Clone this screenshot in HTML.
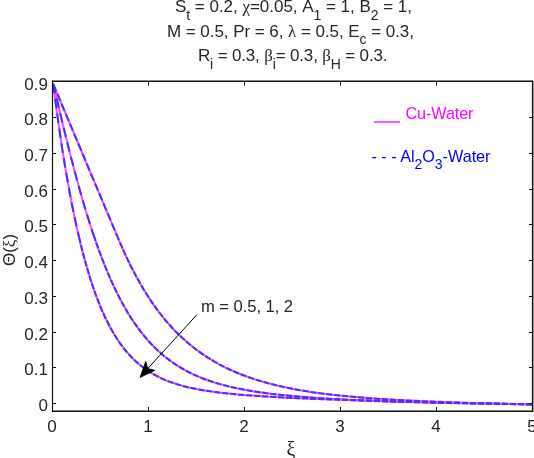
<!DOCTYPE html>
<html><head><meta charset="utf-8"><style>
html,body{margin:0;padding:0;background:#fff;}
svg{display:block;will-change:transform;}
text{font-family:"Liberation Sans",sans-serif;font-size:17px;fill:#262626;}
.tl text{font-size:17px;}
</style></head><body>
<svg width="534" height="458" viewBox="0 0 534 458">
<rect x="0" y="0" width="534" height="458" fill="#fff"/>
<g fill="none" stroke-linejoin="round">
<path d="M53.2,84.0 57.4,115.9 62.1,148.2 66.9,177.0 71.6,202.7 76.3,225.5 81.0,245.7 83.7,255.9 86.3,265.4 89.5,276.0 92.1,284.2 95.2,293.3 97.9,300.3 100.5,306.9 103.7,314.2 106.9,321.0 110.1,327.2 113.3,332.8 116.5,338.0 119.7,342.8 122.9,347.2 126.1,351.2 130.9,356.6 135.7,361.3 138.9,364.1 143.7,367.9 148.5,371.2 153.3,374.1 156.5,375.9 159.7,377.5 164.5,379.7 169.3,381.6 174.1,383.3 178.9,384.8 183.7,386.2 190.1,387.7 194.9,388.8 207.9,391.0 219.3,392.6 236.4,394.4 259.1,396.1 281.9,397.4 310.4,398.7 344.6,399.9 390.1,401.3 430.0,402.3 486.9,403.5 532.5,404.3" stroke="#ff48ff" stroke-width="2"/>
<path d="M53.2,84.0 62.1,121.5 70.5,155.5 76.3,177.6 83.7,203.7 90.5,225.8 96.8,244.5 100.0,253.2 103.7,262.9 106.9,270.7 110.1,278.2 113.3,285.3 116.5,291.9 119.7,298.3 124.5,307.1 129.3,315.2 132.5,320.1 135.7,324.9 140.5,331.4 143.7,335.4 148.5,341.1 151.7,344.5 156.5,349.3 161.3,353.7 166.1,357.7 170.9,361.3 175.7,364.6 180.5,367.6 185.3,370.3 190.1,372.8 194.9,375.1 202.2,378.2 207.9,380.3 213.6,382.2 219.3,383.9 230.7,386.9 236.4,388.2 247.8,390.4 259.1,392.2 276.2,394.4 287.6,395.6 299.0,396.6 321.8,398.3 344.6,399.6 373.0,400.9 407.2,402.0 447.1,403.0 486.9,403.7 532.5,404.3" stroke="#ff48ff" stroke-width="2"/>
<path d="M53.2,84.0 120.4,243.6 123.3,250.2 128.1,260.6 131.9,268.4 136.8,277.5 140.6,284.4 144.5,290.8 151.2,301.3 155.1,306.8 158.9,312.0 162.8,316.9 166.6,321.6 170.5,325.9 174.3,330.1 178.2,334.0 183.0,338.6 187.8,342.8 191.7,346.0 196.5,349.8 202.2,353.9 207.9,357.7 213.6,361.1 219.3,364.3 225.0,367.3 230.7,370.0 236.4,372.5 242.1,374.8 247.8,376.9 259.1,380.7 264.8,382.3 276.2,385.3 287.6,387.8 293.3,388.9 310.4,391.9 327.5,394.2 344.6,396.1 367.4,398.0 390.1,399.6 418.6,401.1 452.8,402.4 486.9,403.4 532.5,404.6" stroke="#ff48ff" stroke-width="2"/>
<g stroke="#4234ff" stroke-width="2">
<path d="M53.2,84.0 56.4,108.2 59.0,127.0 62.1,148.2 65.8,170.9 69.5,191.7 72.1,205.3 75.3,220.7 79.0,237.0" stroke-dasharray="9.5 5.5"/>
<path d="M53.2,84.0 65.8,136.6 70.5,155.5 75.3,173.6 80.0,190.9 84.7,207.2 89.5,222.6 93.7,235.4" stroke-dasharray="9.5 5.5"/>
<path d="M53.2,84.0 119.4,241.3" stroke-dasharray="7.5 3.3"/>
<path d="M79.0,237.0 82.6,251.9 87.4,269.1 90.5,279.4 95.2,293.3 100.0,305.6 102.1,310.6 105.3,317.7 110.1,327.2 114.9,335.5 119.7,342.8 122.9,347.2 126.1,351.2 129.3,354.8 132.5,358.2 135.7,361.3 138.9,364.1 142.1,366.7 145.3,369.0 148.5,371.2 153.3,374.1 158.1,376.7 161.3,378.3 164.5,379.7 169.3,381.6 177.3,384.4 186.9,387.0 196.5,389.1 207.9,391.0 219.3,392.6 230.7,393.8 247.8,395.3 264.8,396.4 287.6,397.7 316.1,398.9 350.3,400.1 378.7,401.0 441.4,402.6 532.5,404.3" stroke-dasharray="6 2" stroke-dashoffset="7.70"/>
<path d="M93.7,235.4 98.9,250.3 105.3,266.9 110.1,278.2 113.3,285.3 116.5,291.9 121.3,301.3 124.5,307.1 127.7,312.5 130.9,317.7 134.1,322.5 140.5,331.4 146.9,339.2 153.3,346.2 159.7,352.3 164.5,356.4 167.7,358.9 170.9,361.3 175.7,364.6 183.7,369.4 188.5,372.0 193.3,374.4 202.2,378.2 207.9,380.3 213.6,382.2 219.3,383.9 230.7,386.9 242.1,389.3 253.4,391.3 270.5,393.7 287.6,395.6 304.7,397.1 327.5,398.7 350.3,399.9 373.0,400.9 401.5,401.8 435.7,402.7 464.2,403.3 532.5,404.3" stroke-dasharray="6 2" stroke-dashoffset="0.23"/>
<path d="M119.4,241.3 125.2,254.4 131.0,266.5 136.8,277.5 143.5,289.2 150.3,299.9 157.0,309.4 160.9,314.5 164.7,319.3 171.4,327.0 177.2,333.0 181.1,336.8 185.9,341.2 193.6,347.6 202.2,353.9 207.9,357.7 213.6,361.1 219.3,364.3 225.0,367.3 230.7,370.0 236.4,372.5 242.1,374.8 253.4,378.9 264.8,382.3 276.2,385.3 287.6,387.8 299.0,390.0 310.4,391.9 321.8,393.5 338.9,395.5 356.0,397.1 378.7,398.9 401.5,400.2 418.6,401.1 435.7,401.8 469.9,402.9 532.5,404.6" stroke-dasharray="6 2" stroke-dashoffset="6.56"/>
</g>
</g>
<g stroke="#111" fill="none">
<line x1="52" y1="81.3" x2="533" y2="81.3" stroke-width="1.4"/>
<line x1="52" y1="411.3" x2="533" y2="411.3" stroke-width="1.4"/>
<line x1="52.5" y1="80.6" x2="52.5" y2="412" stroke-width="1.2"/>
<line x1="532.5" y1="80.6" x2="532.5" y2="412" stroke-width="1.2"/>
<line x1="533.5" y1="80.6" x2="533.5" y2="412" stroke="#999" stroke-width="1"/>
<g stroke-width="1">
<line x1="52" y1="403.5" x2="56" y2="403.5"/><line x1="533" y1="403.5" x2="529" y2="403.5"/><line x1="52" y1="367.5" x2="56" y2="367.5"/><line x1="533" y1="367.5" x2="529" y2="367.5"/><line x1="52" y1="332.5" x2="56" y2="332.5"/><line x1="533" y1="332.5" x2="529" y2="332.5"/><line x1="52" y1="296.5" x2="56" y2="296.5"/><line x1="533" y1="296.5" x2="529" y2="296.5"/><line x1="52" y1="260.5" x2="56" y2="260.5"/><line x1="533" y1="260.5" x2="529" y2="260.5"/><line x1="52" y1="224.5" x2="56" y2="224.5"/><line x1="533" y1="224.5" x2="529" y2="224.5"/><line x1="52" y1="189.5" x2="56" y2="189.5"/><line x1="533" y1="189.5" x2="529" y2="189.5"/><line x1="52" y1="153.5" x2="56" y2="153.5"/><line x1="533" y1="153.5" x2="529" y2="153.5"/><line x1="52" y1="117.5" x2="56" y2="117.5"/><line x1="533" y1="117.5" x2="529" y2="117.5"/><line x1="52" y1="81.5" x2="56" y2="81.5"/><line x1="533" y1="81.5" x2="529" y2="81.5"/><line x1="52.5" y1="411" x2="52.5" y2="407"/><line x1="52.5" y1="81" x2="52.5" y2="85.5"/><line x1="148.5" y1="411" x2="148.5" y2="407"/><line x1="148.5" y1="81" x2="148.5" y2="85.5"/><line x1="244.5" y1="411" x2="244.5" y2="407"/><line x1="244.5" y1="81" x2="244.5" y2="85.5"/><line x1="340.5" y1="411" x2="340.5" y2="407"/><line x1="340.5" y1="81" x2="340.5" y2="85.5"/><line x1="436.5" y1="411" x2="436.5" y2="407"/><line x1="436.5" y1="81" x2="436.5" y2="85.5"/><line x1="532.5" y1="411" x2="532.5" y2="407"/><line x1="532.5" y1="81" x2="532.5" y2="85.5"/>
</g>
</g>
<g class="tl">
<text x="48" y="411.1" text-anchor="end">0</text><text x="48" y="375.4" text-anchor="end">0.1</text><text x="48" y="339.6" text-anchor="end">0.2</text><text x="48" y="303.9" text-anchor="end">0.3</text><text x="48" y="268.2" text-anchor="end">0.4</text><text x="48" y="232.4" text-anchor="end">0.5</text><text x="48" y="196.7" text-anchor="end">0.6</text><text x="48" y="161.0" text-anchor="end">0.7</text><text x="48" y="125.3" text-anchor="end">0.8</text><text x="48" y="89.5" text-anchor="end">0.9</text>
<text x="52.0" y="432" text-anchor="middle">0</text><text x="148.0" y="432" text-anchor="middle">1</text><text x="244.0" y="432" text-anchor="middle">2</text><text x="340.0" y="432" text-anchor="middle">3</text><text x="436.0" y="432" text-anchor="middle">4</text><text x="532.0" y="432" text-anchor="middle">5</text>
</g>
<g text-anchor="middle">
<text x="175" y="12" text-anchor="start" textLength="237" lengthAdjust="spacing">S<tspan font-size="14" dy="7.5">t</tspan><tspan dy="-7.5"> = 0.2, <tspan style="font-family:'Liberation Serif',serif">&#967;</tspan>=0.05, A</tspan><tspan font-size="14" dy="7.5">1</tspan><tspan dy="-7.5"> = 1, B</tspan><tspan font-size="14" dy="7.5">2</tspan><tspan dy="-7.5"> = 1,</tspan></text>
<text x="167" y="36.8" text-anchor="start" textLength="247" lengthAdjust="spacing">M = 0.5, Pr = 6, <tspan style="font-family:'Liberation Serif',serif">&#955;</tspan> = 0.5, E<tspan font-size="14" dy="7.5">c</tspan><tspan dy="-7.5"> = 0.3,</tspan></text>
<text x="198" y="61.2" text-anchor="start" textLength="189.5" lengthAdjust="spacing">R<tspan font-size="14" dy="7.5">i</tspan><tspan dy="-7.5"> = 0.3, </tspan><tspan style="font-family:'Liberation Serif',serif">&#946;</tspan><tspan font-size="14" dy="7.5">i</tspan><tspan dy="-7.5">= 0.3, </tspan><tspan style="font-family:'Liberation Serif',serif">&#946;</tspan><tspan font-size="14" dy="7.5">H</tspan><tspan dy="-7.5"> = 0.3.</tspan></text>
</g>
<g style="font-size:16.2px">
<text x="405.5" y="118.7" textLength="68" lengthAdjust="spacing" style="fill:#ff00ff;font-size:16.2px">Cu-Water</text>
<line x1="374" y1="122" x2="400" y2="122" stroke="#ff00ff" stroke-width="1.3"/>
<text x="371.5" y="161.5" textLength="119" lengthAdjust="spacing" style="fill:#0000ff;font-size:16.2px">- - - Al<tspan font-size="14" dy="7">2</tspan><tspan dy="-7">O</tspan><tspan font-size="14" dy="7">3</tspan><tspan dy="-7">-Water</tspan></text>
</g>
<text x="201" y="312.3" textLength="92" lengthAdjust="spacing" style="font-size:16.6px">m = 0.5, 1, 2</text>
<line x1="196.8" y1="314.8" x2="146" y2="370.5" stroke="#000" stroke-width="1"/>
<path d="M140,377.5 L145.7,361.4 L147.8,368.6 L154.9,370.3 Z" fill="#000" stroke="#000" stroke-width="0.8" stroke-linejoin="round"/>
<text transform="translate(15,250) rotate(-90)" text-anchor="middle">&#920;(<tspan style="font-family:'Liberation Serif',serif">&#958;</tspan>)</text>
<text x="291" y="455.5" text-anchor="middle" style="font-size:20px;font-family:'Liberation Serif',serif">&#958;</text>
</svg>
</body></html>
